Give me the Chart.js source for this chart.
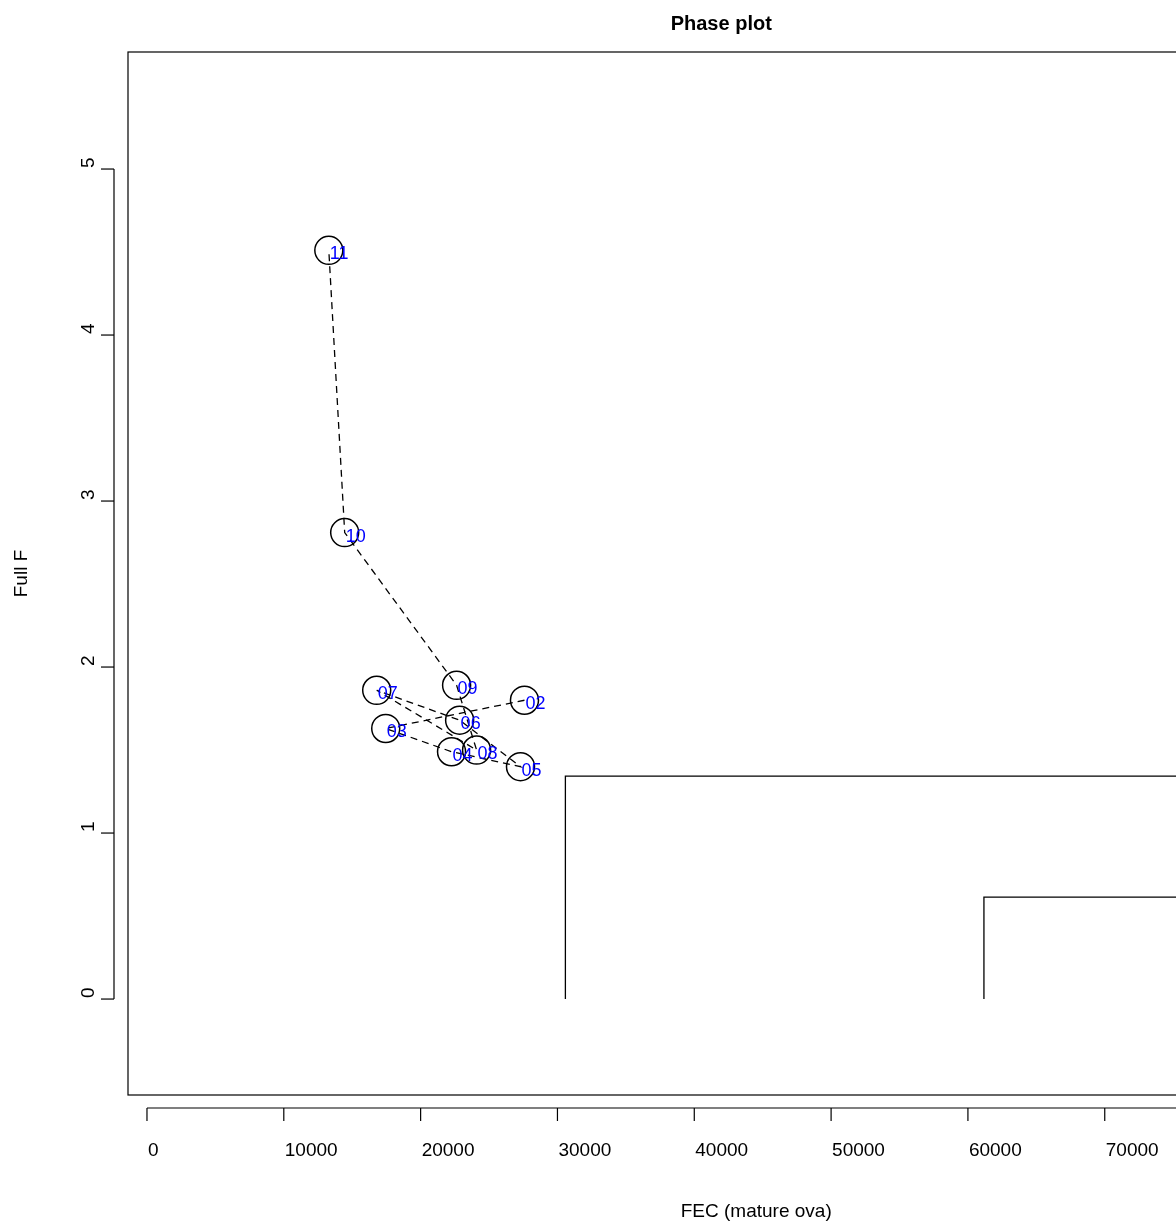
<!DOCTYPE html>
<html><head><meta charset="utf-8">
<script src="https://cdn.jsdelivr.net/npm/chart.js@4"></script>
<style>html,body{margin:0;padding:0;overflow:hidden;background:#fff;width:1176px;height:1226px}
#wrap{width:1330px;height:1226px}</style></head>
<body><div id="wrap"><canvas id="c" width="1330" height="1226"></canvas></div>
<script>
const years = ["02","03","04","05","06","07","08","09","10","11"];
const fec = [27590,17450,22260,27300,22850,16790,24090,22630,14450,13290];
const fullF = [1.80,1.63,1.49,1.40,1.68,1.86,1.50,1.89,2.81,4.51];
const ref1 = [{x:30580,y:0},{x:30580,y:1.343},{x:90000,y:1.343}];
const ref2 = [{x:61170,y:0},{x:61170,y:0.614},{x:90000,y:0.614}];
const xTicks = [0,10000,20000,30000,40000,50000,60000,70000,80000];
const yTicks = [0,1,2,3,4,5];
const FONT = '"Liberation Sans", Arial, sans-serif';

const axes = {
  id:'axes',
  afterDraw(ch){
    const {ctx, chartArea:a, scales:{x,y}} = ch;
    ctx.save();
    ctx.strokeStyle='#000'; ctx.lineWidth=1.2; ctx.setLineDash([]);
    ctx.strokeRect(a.left,a.top,a.right-a.left,a.bottom-a.top);
    ctx.fillStyle='#0000ff'; ctx.font='18px '+FONT; ctx.textAlign='left'; ctx.textBaseline='middle';
    years.forEach((t,i)=>ctx.fillText(t, x.getPixelForValue(fec[i])+1, y.getPixelForValue(fullF[i])+4));
    ctx.fillStyle='#000';
    const ya = a.bottom+13;
    ctx.beginPath(); ctx.moveTo(x.getPixelForValue(xTicks[0]),ya); ctx.lineTo(x.getPixelForValue(xTicks[xTicks.length-1]),ya); ctx.stroke();
    ctx.font='19px '+FONT; ctx.textBaseline='middle';
    ctx.textAlign='left';
    xTicks.forEach(v=>{const p=x.getPixelForValue(v); ctx.beginPath(); ctx.moveTo(p,ya); ctx.lineTo(p,ya+13); ctx.stroke(); ctx.fillText(String(v),p+1,ya+43);});
    const xa = a.left-14;
    ctx.beginPath(); ctx.moveTo(xa,y.getPixelForValue(0)); ctx.lineTo(xa,y.getPixelForValue(5)); ctx.stroke();
    yTicks.forEach(v=>{const p=y.getPixelForValue(v); ctx.beginPath(); ctx.moveTo(xa,p); ctx.lineTo(xa-13,p); ctx.stroke();
      ctx.save(); ctx.translate(xa-25,p); ctx.rotate(-Math.PI/2); ctx.fillText(String(v),1,0); ctx.restore();});
    ctx.textAlign='center';
    ctx.fillText('FEC (mature ova)', (a.left+a.right)/2+35, 1212);
    ctx.save(); ctx.translate(22,(a.top+a.bottom)/2); ctx.rotate(-Math.PI/2); ctx.fillText('Full F',0,0); ctx.restore();
    ctx.font='bold 20px '+FONT; ctx.fillText('Phase plot',(a.left+a.right)/2,24);
    ctx.restore();
  }
};

new Chart(document.getElementById('c'),{
  type:'scatter',
  data:{datasets:[
    {data:fec.map((v,i)=>({x:v,y:fullF[i]})), showLine:true, borderColor:'#000', borderWidth:1.3, borderDash:[7,5],
     pointRadius:14, pointBorderColor:'#000', pointBackgroundColor:'rgba(0,0,0,0)', pointBorderWidth:1.5},
    {data:ref1, showLine:true, borderColor:'#000', borderWidth:1.3, pointRadius:0},
    {data:ref2, showLine:true, borderColor:'#000', borderWidth:1.3, pointRadius:0}
  ]},
  options:{responsive:false, animation:false, clip:true,
    layout:{padding:{left:128,top:52,right:14,bottom:131}},
    plugins:{legend:{display:false},tooltip:{enabled:false}},
    scales:{x:{type:'linear',display:false,min:-1387,max:85330},
            y:{type:'linear',display:false,min:-0.578,max:5.705}}
  },
  plugins:[axes]
});
</script></body></html>
